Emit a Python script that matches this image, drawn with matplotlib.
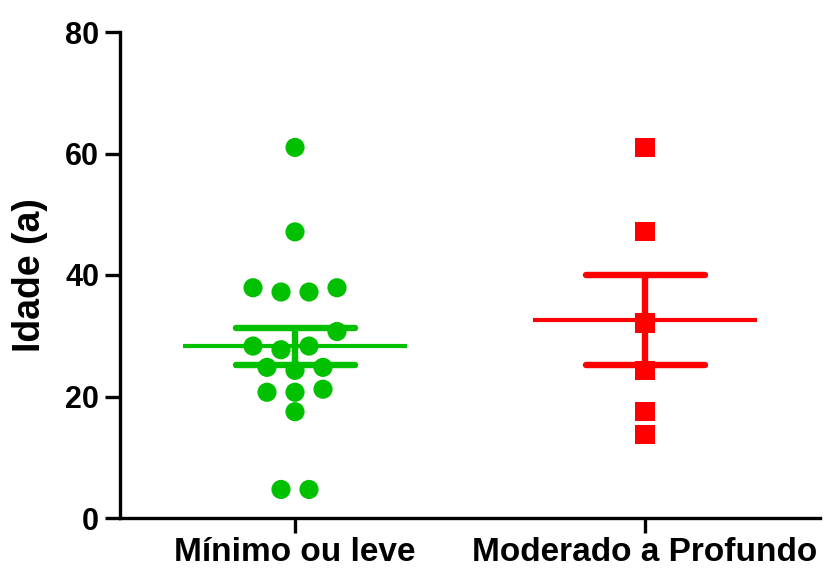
import numpy as np
import matplotlib.pyplot as plt

plt.rcParams['font.family'] = 'Liberation Sans'
plt.rcParams['font.weight'] = 'bold'

# Idade por grupo
groups = ['Mínimo ou leve', 'Moderado a Profundo']
idade_minimo = [61.0, 47.1, 37.9, 37.2, 37.2, 37.9, 30.7, 28.3, 27.7, 28.3,
                24.8, 24.3, 24.8, 21.2, 20.7, 20.7, 17.5, 4.7, 4.7]
idade_moderado = [61.0, 47.1, 32.1, 24.3, 17.5, 13.7]
yticks = [0, 20, 40, 60, 80]

colors = ['#00C000', '#FF0000']
markers = ['o', 's']


def swarm_offsets(values, row_h=3.1, step=0.08):
    """Agrupa valores próximos em linhas e espalha cada linha em torno do centro."""
    values = np.asarray(values)
    order = np.argsort(values, kind='stable')
    rows = []
    for i in order:
        if rows and values[i] - values[rows[-1][0]] <= row_h:
            rows[-1].append(i)
        else:
            rows.append([i])
    offsets = np.zeros(len(values))
    for row in rows:
        n = len(row)
        slots = sorted((np.arange(n) - (n - 1) / 2) * step, key=lambda s: (abs(s), s))
        for i, s in zip(row, slots):
            offsets[i] = s
    return offsets


fig = plt.figure(figsize=(8.31, 5.71), dpi=100)
ax = fig.add_axes([120 / 831, 53 / 571, 700 / 831, 486 / 571])

for pos, vals, c, m in zip(range(2), [idade_minimo, idade_moderado], colors, markers):
    vals = np.array(vals)
    x = pos + swarm_offsets(vals)
    ax.scatter(x, vals, s=13.8 ** 2, marker=m, color=c, edgecolors='none',
               zorder=3, clip_on=False)
    mean = vals.mean()
    sem = vals.std(ddof=1) / np.sqrt(len(vals))
    # média ± EPM
    ax.hlines(mean, pos - 0.32, pos + 0.32, color=c, lw=3, zorder=4)
    ax.hlines([mean - sem, mean + sem], pos - 0.17, pos + 0.17, color=c,
              lw=4.6, capstyle='round', zorder=4)
    ax.vlines(pos, mean - sem, mean + sem, color=c, lw=4.6, zorder=4)

ax.set_xlim(-0.5, 1.5)
ax.set_ylim(0, 80)
ax.set_xticks(range(2))
ax.set_xticklabels(groups, fontsize=24)
ax.set_yticks(yticks)
ax.tick_params(axis='y', labelsize=22, length=11, width=2.4, pad=4)
ax.tick_params(axis='x', length=11, width=2.4, pad=3)
ax.set_ylabel('Idade (a)', fontsize=27, fontweight='bold', labelpad=12)

for side in ['top', 'right']:
    ax.spines[side].set_visible(False)
for side in ['left', 'bottom']:
    ax.spines[side].set_linewidth(2.4)

fig.savefig('out.png', dpi=100)
